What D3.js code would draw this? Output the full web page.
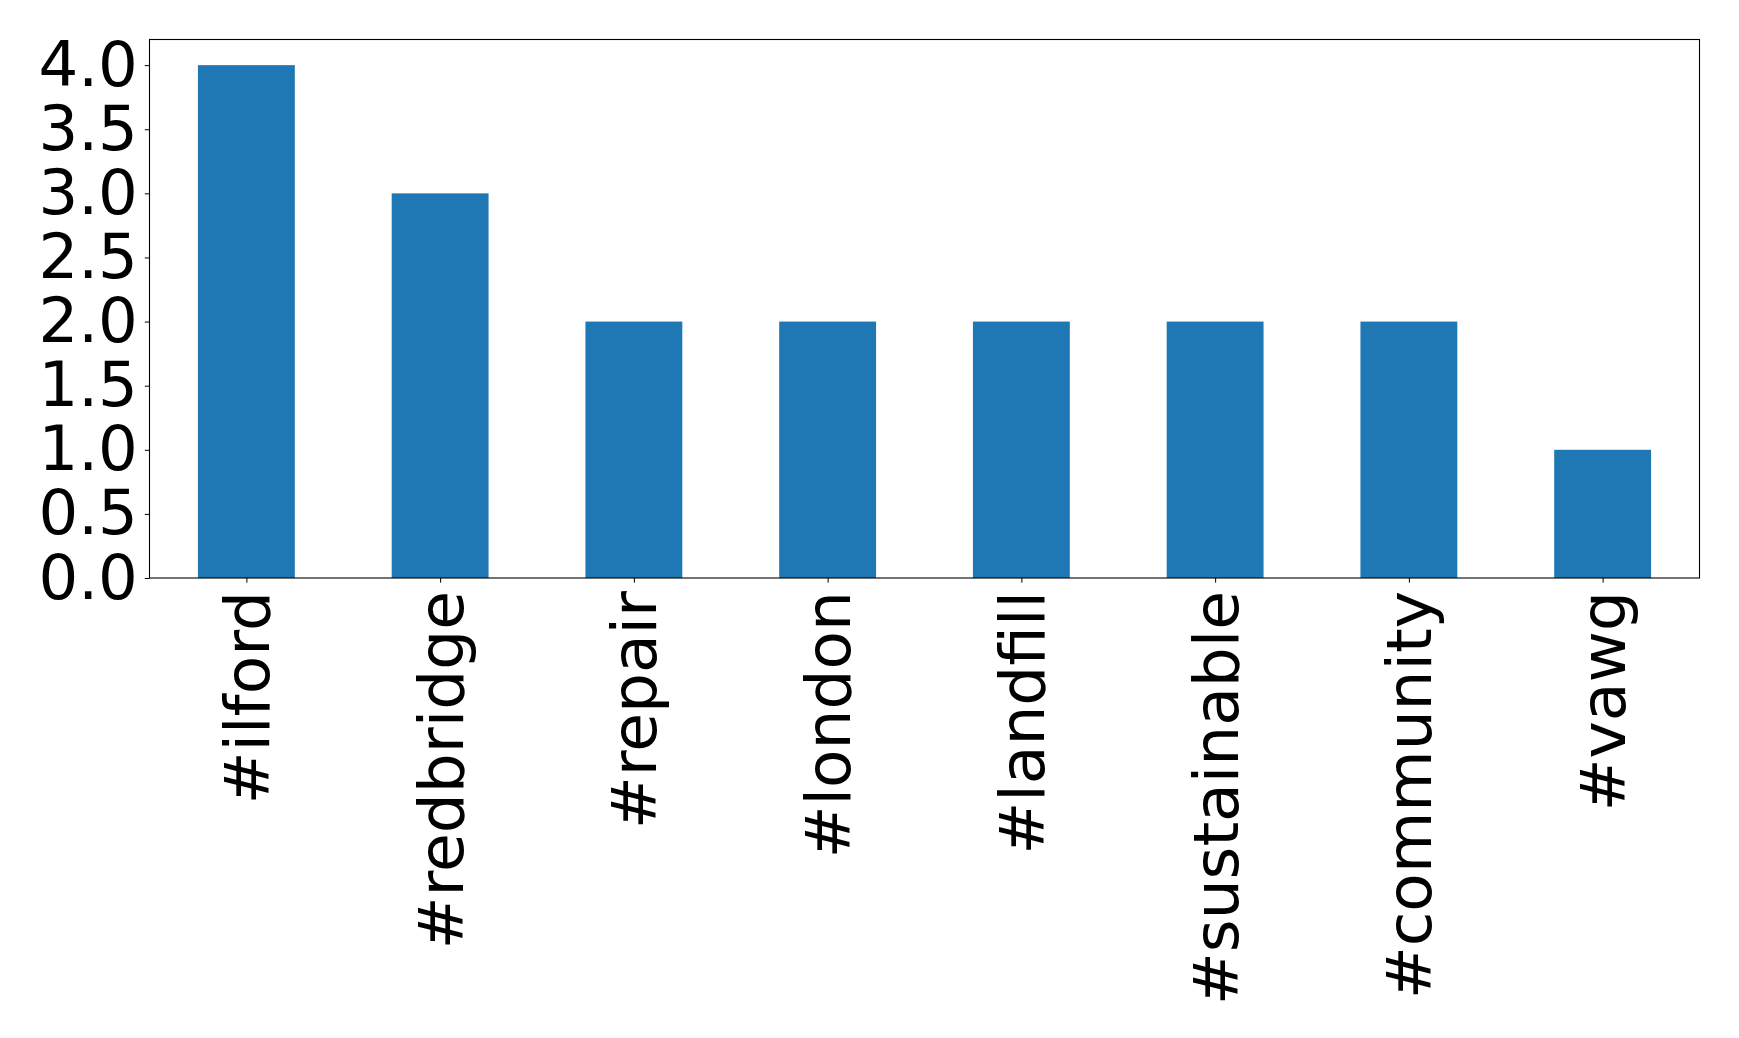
<!DOCTYPE html>
<html><head><meta charset="utf-8">
<script src="https://cdn.jsdelivr.net/npm/d3@7"></script>
<style>body{margin:0;background:#fff}svg{display:block}text{font-family:"DejaVu Sans",sans-serif}</style>
</head><body>
<script>
const categories = ["#ilford","#redbridge","#repair","#london","#landfill","#sustainable","#community","#vawg"];
const counts = [4,3,2,2,2,2,2,1];
const yTicks = [0,0.5,1,1.5,2,2.5,3,3.5,4];

const W=1739,H=1038;
const m={left:149.5,top:39.5,right:1699.5,bottom:578};
const svg=d3.select("body").append("svg").attr("width",W).attr("height",H);
const x=d3.scaleLinear().domain([-0.5,categories.length-0.5]).range([m.left,m.right]);
const y=d3.scaleLinear().domain([0,4.2]).range([m.bottom,m.top]);

svg.append("g").selectAll("rect").data(counts).join("rect")
  .attr("x",(d,i)=>x(i-0.25)).attr("width",(d,i)=>x(i+0.25)-x(i-0.25))
  .attr("y",d=>y(d)).attr("height",d=>y(0)-y(d)).attr("fill","#1f77b4");

const ya=svg.append("g").attr("transform",`translate(${m.left},0)`)
  .call(d3.axisLeft(y).tickValues(yTicks).tickFormat(d3.format(".1f")).tickSize(4.7).tickPadding(7));
ya.select(".domain").remove();
ya.selectAll("text").attr("font-size",62.5).attr("font-family","DejaVu Sans").attr("fill","#000");
ya.selectAll("line").attr("stroke","#000");

const xa=svg.append("g").attr("transform",`translate(0,${m.bottom})`)
  .call(d3.axisBottom(x).tickValues(d3.range(categories.length)).tickFormat(i=>categories[i]).tickSize(4.7));
xa.select(".domain").remove();
xa.selectAll("line").attr("stroke","#000");
xa.selectAll("text").attr("font-size",63).attr("font-family","DejaVu Sans").attr("fill","#000")
  .attr("transform","rotate(-90)").attr("text-anchor","end")
  .attr("x",-13).attr("y",0).attr("dy","0.35em");

svg.append("rect").attr("x",m.left).attr("y",m.top).attr("width",m.right-m.left).attr("height",m.bottom-m.top)
  .attr("fill","none").attr("stroke","#000").attr("stroke-width",1.1);
</script>
</body></html>
